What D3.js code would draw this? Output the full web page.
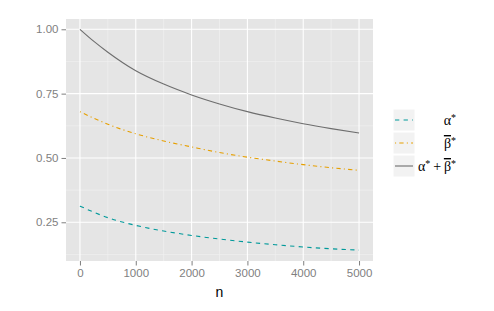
<!DOCTYPE html>
<html><head><meta charset="utf-8">
<script src="https://cdn.jsdelivr.net/npm/d3@7"></script>
<style>body{margin:0;background:#fff}svg{display:block}</style>
</head><body>
<svg id="c" width="494" height="311"></svg>
<script>
const nVals  = [0, 250, 500, 1000, 1500, 2000, 2500, 3000, 3500, 4000, 4500, 5000];
const alpha  = [0.313, 0.289, 0.268, 0.238, 0.216, 0.199, 0.185, 0.173, 0.163, 0.154, 0.147, 0.142];
const beta   = [0.680, 0.654, 0.631, 0.594, 0.566, 0.543, 0.521, 0.503, 0.488, 0.474, 0.462, 0.452];
const total  = [1.000, 0.953, 0.911, 0.839, 0.787, 0.745, 0.710, 0.680, 0.655, 0.633, 0.614, 0.597];
const xTicks = [0, 1000, 2000, 3000, 4000, 5000];
const xMinor = [500, 1500, 2500, 3500, 4500];
const yTicks = [0.25, 0.50, 0.75, 1.00];
const yMinor = [0.125, 0.375, 0.625, 0.875];

const svg = d3.select("#c");
const L = 66, R = 373, T = 19, B = 261;
const x = d3.scaleLinear().domain([-250, 5250]).range([L, R]);
const y = d3.scaleLinear().domain([0.0996, 1.040]).range([B, T]);

svg.append("rect").attr("x", L).attr("y", T).attr("width", R - L).attr("height", B - T).attr("fill", "#E5E5E5");
const g = svg.append("g");
xMinor.forEach(v => g.append("line").attr("x1", x(v)).attr("x2", x(v)).attr("y1", T).attr("y2", B).attr("stroke", "#F2F2F2").attr("stroke-width", 0.6));
yMinor.forEach(v => g.append("line").attr("y1", y(v)).attr("y2", y(v)).attr("x1", L).attr("x2", R).attr("stroke", "#F2F2F2").attr("stroke-width", 0.6));
xTicks.forEach(v => g.append("line").attr("x1", x(v)).attr("x2", x(v)).attr("y1", T).attr("y2", B).attr("stroke", "#fff").attr("stroke-width", 1.1));
yTicks.forEach(v => g.append("line").attr("y1", y(v)).attr("y2", y(v)).attr("x1", L).attr("x2", R).attr("stroke", "#fff").attr("stroke-width", 1.1));

const xAxis = svg.append("g").attr("transform", `translate(0,${B})`)
  .call(d3.axisBottom(x).tickValues(xTicks).tickSize(4.5).tickPadding(3).tickFormat(d3.format("d")));
const yAxis = svg.append("g").attr("transform", `translate(${L},0)`)
  .call(d3.axisLeft(y).tickValues(yTicks).tickSize(4.5).tickPadding(3).tickFormat(d3.format(".2f")));
[xAxis, yAxis].forEach(a => {
  a.select(".domain").remove();
  a.selectAll(".tick line").attr("stroke", "#7F7F7F").attr("stroke-width", 1);
  a.selectAll(".tick text").attr("fill", "#7F7F7F").style("font-family", "Liberation Sans, Arial, sans-serif").style("font-size", "11.5px");
});

svg.append("text").attr("x", (L + R) / 2).attr("y", 297).attr("text-anchor", "middle")
  .style("font-family", "Liberation Sans, Arial, sans-serif").style("font-size", "14px").attr("fill", "#000").text("n");

const series = [
  {vals: alpha, color: "#00999A", dash: "4.3,4.3"},
  {vals: beta,  color: "#E69F00", dash: "1.1,3.2,4.3,3.2"},
  {vals: total, color: "#6E6E6E", dash: null}
];
const line = d3.line().x(d => x(d[0])).y(d => y(d[1])).curve(d3.curveMonotoneX);
series.forEach(s => {
  const p = svg.append("path").datum(nVals.map((n, i) => [n, s.vals[i]]))
    .attr("d", line).attr("fill", "none").attr("stroke", s.color).attr("stroke-width", 1.1);
  if (s.dash) p.attr("stroke-dasharray", s.dash);
});

// legend
const kx = 393, kw = 22, kh = 22, ky0 = 109, pitch = 23;
const serif = "Liberation Serif, Times New Roman, serif";
series.forEach((s, i) => {
  const yy = ky0 + i * pitch;
  svg.append("rect").attr("x", kx).attr("y", yy).attr("width", kw).attr("height", kh).attr("fill", "#F2F2F2").attr("stroke", "#fff").attr("stroke-width", 1);
  const l = svg.append("line").attr("x1", kx + 2).attr("x2", kx + kw - 2).attr("y1", yy + kh / 2).attr("y2", yy + kh / 2)
    .attr("stroke", s.color).attr("stroke-width", 1.1);
  if (s.dash) l.attr("stroke-dasharray", s.dash);
});
function addLabel(i, parts) {
  const yy = ky0 + i * pitch + kh / 2 + 5;
  const t = svg.append("text").attr("x", 456).attr("y", yy).attr("text-anchor", "end")
    .style("font-family", serif).style("font-size", "14px").attr("fill", "#000");
  let pending = 0;
  parts.forEach(p => {
    let ts;
    if (p === "*") {
      ts = t.append("tspan").attr("dy", -4.5 + pending).style("font-size", "10px").text("*");
      pending = 4.5;
      return;
    } else if (p === "+") {
      ts = t.append("tspan").text("\u2009+\u2009");
    } else if (p === "β") {
      ts = t.append("tspan").style("text-decoration", "overline").text("β");
    } else {
      ts = t.append("tspan").text(p);
    }
    if (pending) { ts.attr("dy", pending); pending = 0; }
  });
}
addLabel(0, ["α", "*"]);
addLabel(1, ["β", "*"]);
addLabel(2, ["α", "*", "+", "β", "*"]);
</script>
</body></html>
